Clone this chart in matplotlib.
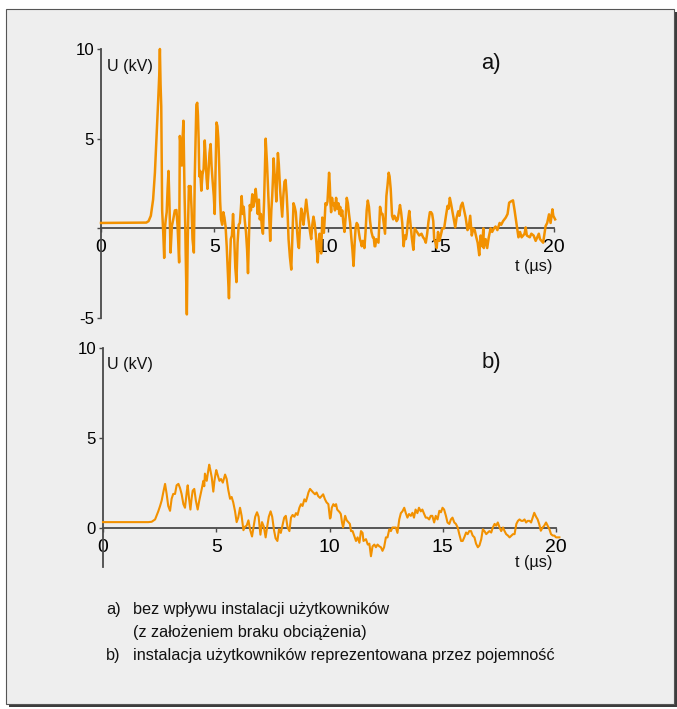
import matplotlib
matplotlib.use("Agg")
import matplotlib.pyplot as plt
from matplotlib import font_manager
from matplotlib.patches import Rectangle

# ---- data: voltage transients U (kV) versus time t (µs) ----
t_a = [0.0, 2.0, 2.1, 2.2, 2.3, 2.38, 2.45, 2.52, 2.57, 2.6, 2.63, 2.66, 2.70, 2.75, 2.79,
       2.83, 2.86, 2.9, 2.94, 2.98, 3.02, 3.07, 3.13, 3.19, 3.26, 3.33, 3.38, 3.45, 3.48,
       3.52, 3.57, 3.6, 3.64, 3.69, 3.72, 3.74, 3.79, 3.83, 3.88, 3.92, 3.95, 4.0, 4.04,
       4.1, 4.14, 4.21, 4.25, 4.28, 4.31, 4.34, 4.38, 4.43, 4.48, 4.53, 4.58, 4.62, 4.66,
       4.70, 4.74, 4.79, 4.84, 4.88, 4.93, 4.98, 5.02, 5.06, 5.10, 5.14, 5.18, 5.22, 5.26,
       5.30, 5.35, 5.40, 5.45, 5.50, 5.55, 5.60, 5.65, 5.69, 5.73, 5.78, 5.83, 5.88, 5.93,
       5.98, 6.03, 6.08, 6.13, 6.17, 6.21, 6.26, 6.30, 6.35, 6.40, 6.45, 6.49, 6.53, 6.57,
       6.62, 6.68, 6.72, 6.77, 6.83, 6.88, 6.92, 6.97, 7.01, 7.06, 7.10, 7.15, 7.20, 7.25,
       7.27, 7.30, 7.33, 7.37, 7.40, 7.44, 7.47, 7.52, 7.56, 7.60, 7.62, 7.66, 7.69, 7.74,
       7.78, 7.81, 7.85, 7.88, 7.91, 7.96, 8.0, 8.05, 8.10, 8.15, 8.20, 8.24, 8.28, 8.34,
       8.40, 8.45, 8.50, 8.55, 8.60, 8.66, 8.71, 8.74, 8.79, 8.84, 8.89, 8.94, 9.0, 9.06,
       9.12, 9.18, 9.23, 9.28, 9.33, 9.38, 9.43, 9.48, 9.53, 9.57, 9.61, 9.65, 9.69, 9.72,
       9.77, 9.81, 9.84, 9.88, 9.91, 9.96, 10.0, 10.04, 10.07, 10.10, 10.13, 10.16, 10.2,
       10.24, 10.28, 10.33, 10.38, 10.43, 10.48, 10.52, 10.56, 10.6, 10.65, 10.7, 10.75,
       10.8, 10.85, 10.9, 10.95, 11.0, 11.05, 11.1, 11.15, 11.2, 11.24, 11.29, 11.34,
       11.38, 11.43, 11.48, 11.51, 11.56, 11.6, 11.63, 11.68, 11.73, 11.78, 11.83, 11.88,
       11.94, 12.0, 12.04, 12.08, 12.11, 12.15, 12.2, 12.25, 12.32, 12.38, 12.43, 12.48,
       12.54, 12.6, 12.65, 12.7, 12.74, 12.79, 12.85, 12.9, 12.95, 13.0, 13.05, 13.1,
       13.15, 13.2, 13.25, 13.3, 13.36, 13.41, 13.46, 13.5, 13.55, 13.61, 13.66, 13.72,
       13.79, 13.85, 13.95, 14.05, 14.15, 14.22, 14.28, 14.34, 14.40, 14.46, 14.52, 14.57,
       14.62, 14.67, 14.71, 14.77, 14.82, 14.88, 14.94, 15.0, 15.07, 15.15, 15.23, 15.3,
       15.35, 15.4, 15.45, 15.52, 15.58, 15.64, 15.7, 15.77, 15.82, 15.89, 15.96, 16.03,
       16.1, 16.18, 16.23, 16.3, 16.37, 16.44, 16.5, 16.57, 16.63, 16.7, 16.76, 16.83,
       16.88, 16.9, 16.98, 17.05, 17.12, 17.2, 17.27, 17.35, 17.42, 17.5, 17.6, 17.67,
       17.75, 17.87, 17.95, 18.02, 18.1, 18.19, 18.26, 18.34, 18.43, 18.5, 18.57, 18.64,
       18.7, 18.75, 18.8, 18.93, 19.0, 19.1, 19.19, 19.26, 19.33, 19.38, 19.45, 19.52,
       19.63, 19.7, 19.78, 19.85, 19.93, 19.97, 20.05]
u_a = [0.3, 0.32, 0.4, 0.7, 1.6, 3.1, 5.0, 7.0, 8.5, 10.0, 8.0, 6.8, 1.0, -0.3, -1.65,
       0.1, 0.5, 0.9, 2.2, 3.2, 1.5, -1.35, 0.13, 0.5, 1.0, 1.02, 0.13, -1.9, 5.15,
       4.6, 3.5, 5.0, 6.0, 1.8, 0.1, -1.5, -4.8, -0.6, 2.36, 2.0, 2.36, 1.06, -0.6,
       -1.35, 2.9, 6.9, 7.0, 6.3, 5.0, 2.9, 3.2, 2.1, 3.0, 3.3, 4.9, 4.0, 2.8,
       2.2, 3.0, 4.2, 4.7, 3.5, 2.6, 1.8, 0.8, 3.5, 5.9, 5.7, 5.0, 3.4, 1.5,
       0.5, 0.2, 0.9, 0.6, 0.1, -1.0, -2.5, -3.9, -2.0, -0.6, -0.4, 0.8, -0.5, -2.2,
       -3.0, -0.8, 0.2, 0.3, 1.0, 1.8, 0.8, 1.2, 0.4, -0.2, -1.2, -2.5, -0.5, 1.3,
       1.0, 1.9, 1.2, 1.5, 2.2, 1.5, 0.8, 1.6, 0.5, 0.8, 0.1, -0.3, 1.5, 4.0,
       5.0, 4.3, 3.6, 2.4, 1.5, 0.2, -0.7, 1.0, 1.8, 3.0, 3.9, 3.1, 2.7, 1.5,
       3.0, 4.2, 3.6, 2.8, 2.1, 1.3, 0.65, 1.8, 2.6, 2.7, 1.8, 0.8, -0.6, -1.6,
       -2.3, -0.5, 1.4, 1.2, 0.9, -0.2, -1.0, -1.1, 0.2, 1.1, 0.8, 0.2, 0.9, 1.6,
       0.9, 0.3, -0.2, -0.6, 0.2, 0.65, 0.3, -0.3, -1.2, -1.9, -0.8, -0.3, -0.9, -1.4,
       0.6, 0.1, -0.25, 0.6, 1.4, 1.3, 1.5, 2.4, 3.1, 2.5, 1.4, 0.9, 1.7,
       1.3, 1.4, 1.0, 1.7, 1.1, 1.4, 0.8, 1.2, 0.7, 1.0, 0.3, -0.2,
       0.6, 1.7, 1.4, 0.8, 0.3, -0.5, -1.2, -2.1, -0.8, 0.0, 0.3, 0.2,
       -0.2, -0.6, -0.8, -1.0, -0.7, -0.9, -1.1, -0.2, 1.0, 1.55, 1.2, 0.4,
       -0.2, -0.5, -0.5, -1.0, -1.0, -0.6, -0.7, -0.8, 1.2, 0.8, 0.8, 0.3,
       -0.3, 1.8, 2.4, 3.1, 2.9, 2.2, 0.7, 0.5, 0.7, 0.6, 0.4, 0.5,
       0.9, 1.3, 0.9, 0.3, -1.0, -0.4, -0.6, -0.3, 0.4, 0.97, 0.3, -0.5,
       -1.2, 0.0, -0.2, -0.4, -0.3, -0.5, -0.6, -0.8, -0.3, 0.4, 0.9, 0.9,
       0.8, 0.4, -0.6, -0.8, -1.1, -0.2, -0.7, -0.4, 0.0, 0.0, 0.7, 1.25,
       1.1, 1.7, 1.4, 0.9, 0.5, 0.05, 0.6, 0.95, 0.7, 1.25, 1.43, 1.0,
       0.6, -0.1, 0.0, 0.7, -0.4, 0.0, -0.1, -0.5, -0.8, -1.5, -0.4, -1.0,
       0.0, -1.1, -0.6, -1.1, -0.5, 0.0, -0.2, 0.0, 0.1, -0.1, 0.3, 0.2,
       0.4, 0.6, 0.8, 1.43, 1.5, 1.56, 1.0, 0.3, -0.5, -0.2, -0.5, -0.4,
       -0.3, 0.05, -0.4, -0.5, -0.3, -0.4, -0.7, -0.5, -0.3, -0.6, -0.7, -0.8,
       0.13, 0.3, 0.78, 0.3, 1.06, 0.7, 0.5]

t_b = [0.0, 2.0, 2.15, 2.3, 2.44, 2.52, 2.59, 2.66, 2.74, 2.81, 2.88, 2.96, 3.03, 3.1,
       3.18, 3.25, 3.33, 3.4, 3.47, 3.55, 3.62, 3.7, 3.74, 3.8, 3.86, 3.91, 3.96, 4.03,
       4.1, 4.18, 4.25, 4.36, 4.43, 4.47, 4.50, 4.58, 4.65, 4.69, 4.74, 4.80, 4.87, 4.92,
       4.97, 5.0, 5.07, 5.14, 5.21, 5.29, 5.39, 5.46, 5.53, 5.61, 5.68, 5.75, 5.83, 5.90,
       5.97, 6.05, 6.12, 6.2, 6.27, 6.34, 6.42, 6.5, 6.58, 6.65, 6.72, 6.8, 6.87, 6.95,
       7.02, 7.1, 7.18, 7.25, 7.32, 7.4, 7.47, 7.55, 7.62, 7.7, 7.77, 7.85, 7.92, 8.0,
       8.07, 8.15, 8.23, 8.3, 8.37, 8.45, 8.52, 8.59, 8.67, 8.74, 8.81, 8.89, 8.96, 9.03,
       9.07, 9.14, 9.21, 9.28, 9.36, 9.43, 9.5, 9.58, 9.65, 9.72, 9.8, 9.87, 9.95, 10.02,
       10.05, 10.1, 10.17, 10.23, 10.29, 10.34, 10.39, 10.45, 10.5, 10.55, 10.6, 10.69,
       10.76, 10.83, 10.9, 10.95, 11.02, 11.1, 11.17, 11.24, 11.32, 11.39, 11.46, 11.5,
       11.61, 11.69, 11.76, 11.83, 11.9, 11.98, 12.05, 12.12, 12.2, 12.27, 12.34, 12.41,
       12.49, 12.56, 12.64, 12.71, 12.78, 12.86, 12.93, 13.0, 13.08, 13.15, 13.22, 13.3,
       13.37, 13.44, 13.51, 13.59, 13.66, 13.73, 13.8, 13.88, 13.95, 14.03, 14.1, 14.18,
       14.25, 14.32, 14.4, 14.47, 14.54, 14.62, 14.69, 14.77, 14.85, 14.92, 14.99, 15.06,
       15.14, 15.21, 15.29, 15.36, 15.43, 15.51, 15.58, 15.66, 15.73, 15.81, 15.88, 15.95,
       16.03, 16.1, 16.17, 16.25, 16.32, 16.4, 16.47, 16.55, 16.62, 16.7, 16.77, 16.84,
       16.92, 16.99, 17.06, 17.14, 17.21, 17.29, 17.36, 17.43, 17.51, 17.58, 17.66, 17.73,
       17.8, 17.88, 17.95, 18.03, 18.1, 18.17, 18.25, 18.32, 18.39, 18.47, 18.54, 18.61,
       18.68, 18.75, 18.83, 18.9, 18.97, 19.04, 19.12, 19.19, 19.26, 19.33, 19.41, 19.48,
       19.56, 19.63, 19.71, 19.78, 19.86, 19.93, 20.0, 20.15]
u_b = [0.3, 0.3, 0.32, 0.45, 0.9, 1.2, 1.5, 1.95, 2.43, 1.87, 1.2, 0.93, 1.6, 1.87,
       1.87, 2.35, 2.43, 2.2, 1.87, 1.3, 1.1, 2.0, 2.35, 1.6, 1.0, 1.6, 2.05, 2.15,
       1.5, 1.0, 1.5, 2.15, 2.6, 2.3, 3.0, 2.6, 3.2, 3.5, 3.2, 2.8, 2.0, 2.6,
       3.0, 3.2, 2.9, 2.6, 2.7, 2.5, 2.95, 2.7, 2.1, 1.6, 1.7, 1.4, 0.9, 0.3,
       0.55, 1.1, 0.65, -0.15, 0.05, 0.1, 0.4, -0.15, -0.5, 0.05, 0.6, 0.85, 0.6, -0.4,
       0.3, 0.05, -0.55, 0.05, 0.6, 0.9, 0.6, -0.15, -0.6, -0.75, -0.1, -0.3, 0.1, 0.55,
       0.65, 0.0, -0.2, 0.55, 0.7, 0.6, 0.8, 0.7, 1.1, 1.3, 1.2, 1.57, 1.45, 1.75,
       1.95, 2.15, 2.05, 1.95, 1.85, 1.95, 1.75, 1.65, 1.75, 1.85, 1.57, 1.4, 1.3, 0.5,
       0.55, 1.1, 1.3, 1.2, 1.3, 1.0, 0.93, 0.85, 0.75, 0.3, 0.0, 0.65,
       0.4, 0.3, 0.2, -0.2, -0.2, -0.5, -0.75, -0.55, -0.85, -0.2, -0.3, -0.75,
       -0.65, -0.95, -0.9, -1.6, -1.05, -0.95, -1.1, -0.95, -1.05, -1.1, -1.3, -1.1,
       -0.55, -0.55, -0.1, -0.2, 0.0, 0.0, 0.0, -0.3, 0.45, 0.8, 0.9, 1.1,
       0.8, 0.55, 0.75, 0.65, 0.82, 0.55, 1.0, 0.8, 1.1, 0.9, 1.0, 0.75,
       0.55, 0.55, 0.45, 0.65, 0.65, 0.28, 0.65, 0.45, 0.93, 0.85, 1.1, 1.0,
       0.65, 0.28, 0.2, 0.45, 0.55, 0.28, 0.2, 0.0, -0.37, -0.75, -0.75, -0.55,
       -0.28, -0.37, -0.2, -0.2, -0.45, -0.55, -0.9, -1.1, -1.0, -0.65, -0.1, -0.2,
       -0.37, -0.28, -0.2, -0.28, 0.0, 0.2, 0.1, 0.28, 0.0, -0.2, 0.0, -0.2,
       -0.37, -0.45, -0.55, -0.45, -0.37, -0.37, 0.2, 0.37, 0.45, 0.37, 0.37, 0.45,
       0.28, 0.37, 0.37, 0.28, 0.55, 0.82, 0.6, 0.45, 0.18, -0.18, 0.0, 0.1,
       0.28, 0.1, -0.1, -0.37, -0.45, -0.45, -0.55, -0.55]

yticks_a = [-5, 0, 5, 10]
ylabels_a = ["-5", "", "5", "10"]
yticks_b = [0, 5, 10]
ylabels_b = ["0", "5", "10"]
xticks = [0, 5, 10, 15, 20]

legend_lines = [
    ("a)", "bez wpływu instalacji użytkowników"),
    ("", "(z założeniem braku obciążenia)"),
    ("b)", "instalacja użytkowników reprezentowana przez pojemność"),
]

# ---- styling ----
W, H = 677, 709
names = {f.name for f in font_manager.fontManager.ttflist}
narrow = "Liberation Sans Narrow" in names
plt.rcParams["font.family"] = ["Liberation Sans Narrow" if narrow else "Liberation Sans", "DejaVu Sans"]
plt.rcParams["axes.unicode_minus"] = False
scale = 1.0 if narrow else 0.93

ORANGE = "#f29100"
AXIS = "#4a4a4a"

fig = plt.figure(figsize=(W / 100, H / 100), dpi=100)
fig.patch.set_facecolor("white")


def fx(px):
    return px / W


def fy(py):
    return 1 - py / H


# panel frame with a drop shadow on the right and bottom
fig.patches.append(Rectangle((fx(9), fy(707)), fx(677) - fx(9), fy(12) - fy(707),
                             transform=fig.transFigure, facecolor="#3c3c3c",
                             edgecolor="none", zorder=-3))
fig.patches.append(Rectangle((fx(6), fy(704)), fx(674) - fx(6), fy(9) - fy(704),
                             transform=fig.transFigure, facecolor="#eeeeee",
                             edgecolor="#555555", linewidth=0.8, zorder=-2))


def make_axes(left_px, top_px, bottom_px, ylim, yticks, ylabels, t, u, lw):
    right_px = left_px + 453
    ax = fig.add_axes([fx(left_px), fy(bottom_px), (right_px - left_px) / W,
                       (bottom_px - top_px) / H])
    ax.set_facecolor("none")
    ax.set_zorder(2)
    ax.set_xlim(0, 20)
    ax.set_ylim(*ylim)
    ax.plot(t, u, color=ORANGE, lw=lw, clip_on=False, zorder=3, solid_joinstyle="round")
    for s in ("top", "right"):
        ax.spines[s].set_visible(False)
    ax.spines["bottom"].set_position(("data", 0))
    ax.spines["bottom"].set_bounds(0, 20)
    ax.spines["left"].set_bounds(ylim[0], 10)
    for s in ("bottom", "left"):
        ax.spines[s].set_color(AXIS)
        ax.spines[s].set_linewidth(1.3)
    ax.set_xticks(xticks)
    ax.set_yticks(yticks)
    ax.set_yticklabels(ylabels)
    ax.tick_params(axis="x", direction="out", length=3, width=1, color=AXIS,
                   labelsize=15 * scale, pad=5)
    ax.tick_params(axis="y", direction="out", length=3, width=1, color=AXIS,
                   labelsize=13 * scale, pad=2)
    return ax


ax_a = make_axes(101, 49, 318, (-5, 10), yticks_a, ylabels_a, t_a, u_a, 1.8)
ax_b = make_axes(103, 348, 567, (-2.2, 10), yticks_b, ylabels_b, t_b, u_b, 1.5)

# axis captions and panel letters
for px, py, txt, size in [
    (107, 71, "U (kV)", 12.5),
    (515, 271, "t (µs)", 12.5),
    (481, 69, "a)", 17),
    (107, 369, "U (kV)", 12.5),
    (515, 567, "t (µs)", 12.5),
    (482, 368, "b)", 17),
]:
    fig.text(fx(px), fy(py), txt, fontsize=size * scale, ha="left", va="baseline",
             color="#111111", zorder=5)

# description block
for i, (tag, line) in enumerate(legend_lines):
    base = 614 + 23 * i
    if tag:
        fig.text(fx(106), fy(base), tag, fontsize=12.6 * scale, ha="left",
                 va="baseline", color="#111111", zorder=5)
    fig.text(fx(133), fy(base), line, fontsize=12.6 * scale, ha="left",
             va="baseline", color="#111111", zorder=5)

fig.savefig("out.png", dpi=100, facecolor="white")
